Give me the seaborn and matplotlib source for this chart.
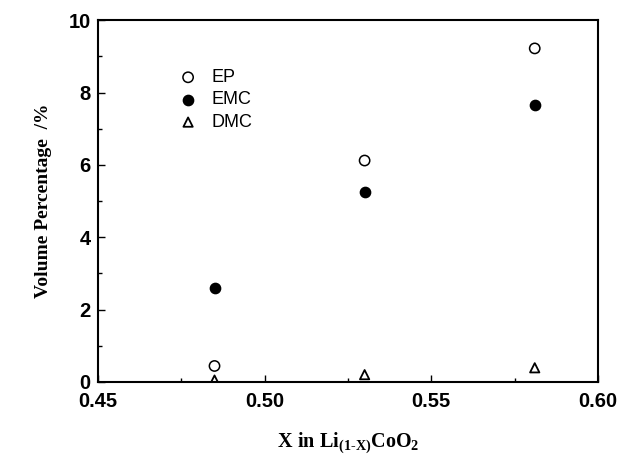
import matplotlib
matplotlib.use("Agg")
import matplotlib.pyplot as plt
import seaborn as sns
import pandas as pd
from matplotlib.ticker import MultipleLocator

x_vals = [0.485, 0.530, 0.581]
ep = [0.44, 6.12, 9.22]
emc = [2.6, 5.25, 7.65]
dmc = [0.05, 0.2, 0.39]
series_names = ["EP", "EMC", "DMC"]

df = pd.DataFrame({
    "x": x_vals * 3,
    "y": ep + emc + dmc,
    "series": [s for s in series_names for _ in x_vals],
})

sns.set_theme(style="ticks")
plt.rcParams["font.family"] = ["Liberation Sans", "DejaVu Sans"]
plt.rcParams["text.color"] = "black"
plt.rcParams["axes.labelcolor"] = "black"
plt.rcParams["mathtext.fontset"] = "custom"
plt.rcParams["mathtext.rm"] = "Liberation Serif:bold"
plt.rcParams["mathtext.it"] = "Liberation Serif:bold"
plt.rcParams["mathtext.bf"] = "Liberation Serif:bold"

fig = plt.figure(figsize=(6.39, 4.59), dpi=100)
ax = fig.add_axes([0.153, 0.168, 0.783, 0.788])

styles = {
    "EP": dict(marker="o", facecolors="none", edgecolors="black", s=55, linewidths=1.1),
    "EMC": dict(marker="o", color="black", edgecolors="black", s=55, linewidths=1.0),
    "DMC": dict(marker="^", facecolors="none", edgecolors="black", s=45, linewidths=1.3),
}
for name in series_names:
    sub = df[df["series"] == name]
    sns.scatterplot(data=sub, x="x", y="y", ax=ax, label=name, **styles[name])

ax.set_xlim(0.45, 0.60)
ax.set_ylim(0, 10)
ax.xaxis.set_major_locator(MultipleLocator(0.05))
ax.xaxis.set_minor_locator(MultipleLocator(0.025))
ax.yaxis.set_major_locator(MultipleLocator(2))
ax.yaxis.set_minor_locator(MultipleLocator(1))
ax.set_xticks([0.45, 0.50, 0.55, 0.60])
ax.set_xticklabels(["0.45", "0.50", "0.55", "0.60"])
ax.tick_params(axis="both", which="both", direction="in", top=False, right=False,
               labelsize=14.5, width=1.0, colors="black")
ax.tick_params(axis="x", which="major", length=5, pad=7)
ax.tick_params(axis="y", which="major", length=5, pad=5)
ax.tick_params(axis="both", which="minor", length=3)
for lab in ax.get_xticklabels() + ax.get_yticklabels():
    lab.set_fontweight("bold")

for sp in ax.spines.values():
    sp.set_visible(True)
    sp.set_linewidth(1.5)
    sp.set_color("black")

ax.set_xlabel(r"$\mathrm{X\ in\ Li_{(1\text{-}X)}CoO_2}$", fontsize=14.5, labelpad=14)
ax.set_ylabel("Volume Percentage  /%", fontsize=14, fontweight="bold",
              family="Liberation Serif", labelpad=12)

leg = ax.legend(loc="upper left", bbox_to_anchor=(0.13, 0.885), frameon=False,
                fontsize=13, handletextpad=0.3, labelspacing=0.3, borderaxespad=0)
for t in leg.get_texts():
    t.set_color("black")

fig.savefig("out.png", dpi=100)
